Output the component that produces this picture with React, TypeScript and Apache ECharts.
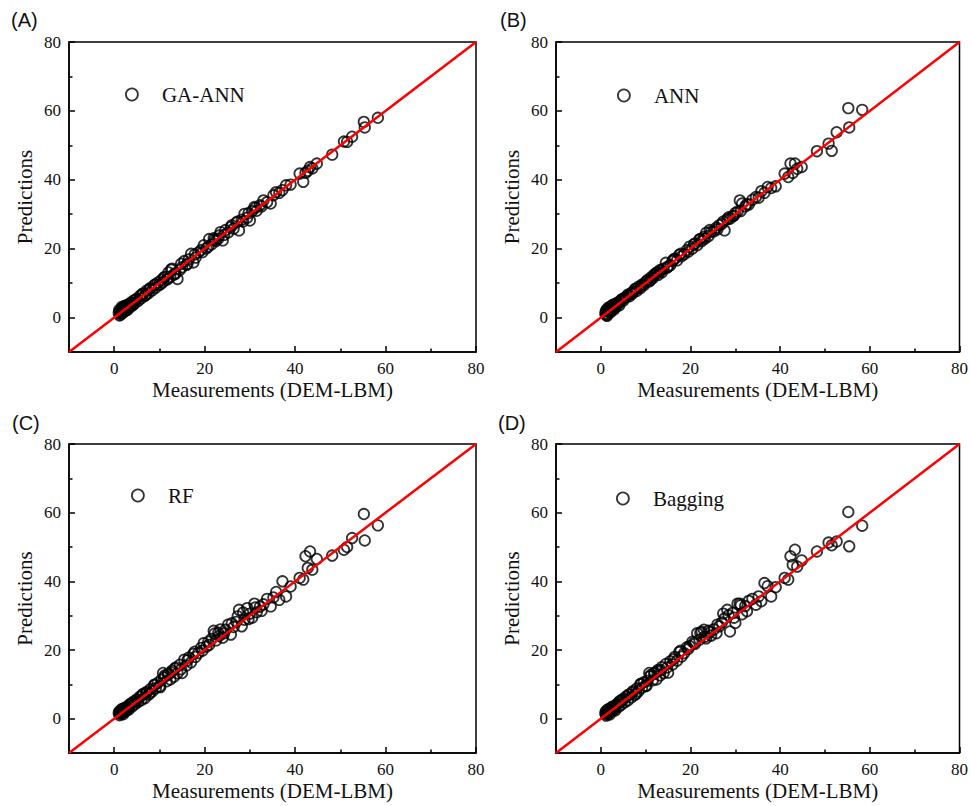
import React, { useEffect, useRef } from "react";
import * as echarts from "echarts";

const panelLabels = ["(A)", "(B)", "(C)", "(D)"];
const modelNames = ["GA-ANN", "ANN", "RF", "Bagging"];
const majorTicks = [0, 20, 40, 60, 80];
const minorTicks = [10, 30, 50, 70];
const axisMin = -10;
const axisMax = 80;
const xAxisTitle = "Measurements (DEM-LBM)";
const yAxisTitle = "Predictions";

const measurements = [
  1.0, 1.2, 1.3, 1.5, 1.6, 1.8, 2.0, 2.1, 2.3, 2.5, 2.7, 3.0, 3.2, 3.5, 3.8, 4.0, 4.3, 4.6, 5.0, 5.3,
  5.7, 6.0, 6.4, 6.8, 7.2, 7.6, 8.0, 8.4, 8.8, 9.2, 9.6, 10.0,
  10.4, 10.8, 11.2, 11.6, 12.0, 12.4, 12.8, 13.2, 13.6, 14.0, 14.5, 15.0, 15.5, 16.0, 16.5, 17.0, 17.5, 18.0, 18.6, 19.2, 19.8,
  20.4, 21.0, 21.5, 22.0, 22.5, 23.0, 23.5, 24.0, 24.6, 25.2, 25.8, 26.4, 27.0, 27.6, 28.2, 28.8, 29.4, 30.0,
  30.5, 31.0, 31.5, 32.2, 33.0, 33.8, 34.6, 35.2, 35.8, 36.5, 37.2, 38.0, 39.0,
  41.0, 41.8, 42.3, 42.8, 43.3, 43.8, 44.8, 48.2, 50.8, 51.5, 52.6, 55.2, 55.4, 58.3,
  1.1, 1.4, 1.7, 2.2, 2.6, 2.9, 3.4, 4.1, 4.8, 6.2, 7.0, 7.9, 9.0, 10.2, 11.0, 11.9, 12.6, 13.4, 14.8, 16.2,
  17.8, 19.5, 20.8, 22.2, 23.2, 24.3, 26.0, 27.3, 28.5, 29.7, 31.2, 32.6,
];

const gaAnnPredictions = [
  1.4, 0.6, 1.9, 1.1, 2.4, 1.3, 2.8, 1.6, 3.4, 2.0, 3.1, 2.5, 3.8, 3.0, 4.4, 3.6, 4.9, 4.2, 5.4, 4.8,
  6.3, 5.6, 7.0, 6.3, 7.8, 7.1, 8.4, 7.9, 9.3, 8.7, 10.1, 9.5,
  10.9, 10.3, 11.8, 11.0, 13.1, 11.8, 14.2, 12.5, 12.9, 11.2, 13.8, 14.6, 16.4, 15.3, 16.9, 18.5, 16.0, 17.4, 18.9, 19.6, 21.0,
  20.1, 22.8, 21.2, 23.0, 22.2, 22.9, 24.8, 22.4, 25.4, 24.7, 26.3, 25.8, 27.6, 25.3, 28.4, 30.1, 29.0, 28.2,
  30.9, 32.1, 31.0, 32.6, 34.0, 33.5, 33.1, 35.5, 36.4, 36.2, 37.0, 38.4, 38.6,
  41.8, 39.4, 42.0, 42.6, 43.7, 43.3, 44.7, 47.3, 51.1, 51.0, 52.5, 56.8, 55.2, 58.0,
  2.2, 0.9, 3.1, 1.8, 3.5, 2.2, 4.0, 3.6, 5.3, 6.8, 6.6, 8.5, 9.6, 9.7, 11.6, 11.3, 13.9, 12.6, 15.6, 15.6,
  18.3, 19.0, 20.6, 22.6, 23.8, 24.0, 26.8, 27.9, 27.9, 30.3, 31.8, 32.3,
];

const annPredictions = [
  1.1, 0.7, 2.3, 1.0, 1.9, 2.6, 1.5, 3.0, 2.2, 3.4, 2.8, 3.9, 2.9, 3.4, 4.4, 4.0, 4.7, 5.2, 4.9, 5.7,
  6.0, 6.6, 6.2, 7.1, 7.5, 8.3, 7.7, 8.9, 8.5, 9.6, 9.4, 10.2,
  10.9, 10.5, 11.7, 11.4, 12.2, 13.0, 12.4, 13.8, 13.1, 14.2, 15.9, 14.8, 15.2, 16.4, 17.1, 16.6, 18.2, 17.8, 18.4, 19.6, 20.6,
  20.0, 21.5, 21.0, 22.7, 22.2, 23.4, 24.6, 23.6, 24.9, 25.0, 26.1, 26.8, 27.2, 25.3, 28.5, 28.7, 29.4, 30.3,
  30.8, 34.0, 33.1, 32.3, 32.8, 34.2, 35.0, 34.8, 36.7, 36.2, 37.9, 37.6, 38.1,
  41.8, 40.8, 44.7, 42.0, 44.7, 43.2, 43.7, 48.3, 50.5, 48.4, 53.8, 60.8, 55.2, 60.3,
  1.8, 0.5, 2.9, 1.6, 3.6, 2.3, 3.9, 3.5, 5.4, 6.6, 6.9, 8.4, 9.3, 10.5, 10.8, 12.5, 13.1, 13.6, 14.5, 16.8,
  18.5, 19.1, 21.3, 22.8, 22.9, 25.4, 25.6, 27.9, 29.1, 29.6, 30.9, 32.9,
];

const rfPredictions = [
  1.6, 1.0, 2.2, 1.4, 2.6, 1.8, 1.3, 2.9, 2.0, 3.2, 2.4, 3.0, 2.6, 3.9, 4.4, 3.6, 5.0, 4.2, 5.6, 4.9,
  6.4, 5.4, 7.2, 6.0, 7.8, 7.0, 8.6, 7.9, 9.8, 8.9, 10.4, 9.4,
  11.3, 13.3, 12.6, 10.9, 13.1, 11.4, 14.0, 12.2, 14.9, 13.2, 15.7, 13.3, 17.2, 15.5, 17.8, 16.4, 18.9, 18.0, 19.1, 20.6, 22.0,
  21.0, 21.5, 23.2, 25.6, 22.8, 25.0, 26.0, 23.6, 25.9, 27.4, 24.5, 26.7, 28.2, 31.7, 26.9, 28.8, 32.2, 30.6,
  29.4, 33.5, 31.0, 32.6, 33.3, 34.9, 32.7, 35.3, 36.9, 34.6, 40.0, 35.6, 38.5,
  41.0, 40.5, 47.3, 43.9, 48.7, 43.4, 46.5, 47.5, 49.2, 50.0, 52.6, 59.6, 51.9, 56.3,
  2.0, 1.7, 2.8, 2.5, 3.3, 2.7, 4.2, 4.6, 5.1, 6.9, 7.5, 7.4, 9.9, 9.2, 12.0, 12.9, 13.5, 14.6, 14.4, 17.0,
  19.5, 19.8, 22.4, 24.8, 24.1, 24.9, 27.8, 29.8, 30.9, 29.0, 32.4, 31.4,
];

const baggingPredictions = [
  1.5, 0.9, 2.3, 1.3, 2.7, 1.7, 1.2, 3.0, 2.1, 3.3, 2.5, 2.9, 2.4, 3.8, 4.5, 3.5, 5.2, 4.1, 5.8, 4.7,
  6.5, 5.3, 7.0, 6.2, 8.0, 6.9, 8.8, 8.0, 10.0, 9.0, 10.6, 9.5,
  11.0, 13.3, 12.8, 11.2, 13.4, 11.4, 14.2, 12.6, 15.0, 13.3, 15.9, 13.4, 16.7, 15.8, 18.0, 16.9, 19.4, 18.1, 19.1, 20.8, 21.1,
  22.4, 21.8, 24.9, 23.0, 25.3, 25.9, 23.4, 25.6, 24.2, 26.0, 24.9, 26.9, 28.0, 29.2, 31.7, 25.4, 30.8, 27.9,
  33.5, 33.5, 30.4, 32.8, 34.3, 34.9, 33.2, 35.6, 34.2, 39.5, 38.6, 35.6, 38.3,
  41.0, 40.5, 47.3, 44.8, 49.2, 44.3, 46.1, 48.7, 51.3, 50.5, 51.6, 60.2, 50.2, 56.2,
  2.1, 1.6, 2.6, 2.8, 3.5, 2.6, 4.0, 4.8, 5.4, 7.0, 7.6, 7.3, 10.2, 9.6, 12.4, 13.1, 13.8, 14.1, 14.9, 17.3,
  19.8, 20.3, 22.1, 25.0, 23.9, 25.1, 27.4, 30.6, 30.1, 29.4, 33.0, 31.3,
];

const predictionSets = [gaAnnPredictions, annPredictions, rfPredictions, baggingPredictions];
const identityLine = [
  [axisMin, axisMin],
  [axisMax, axisMax],
];

// layout (positions only)
const grids = [
  { left: 69, top: 42, width: 407, height: 310 },
  { left: 556, top: 42, width: 407, height: 310 },
  { left: 69, top: 444, width: 407, height: 309 },
  { left: 556, top: 444, width: 407, height: 309 },
];
const legendPos = [
  { left: 125, top: 84 },
  { left: 617, top: 85 },
  { left: 131, top: 485 },
  { left: 616, top: 488 },
];
const labelPos = [
  { left: 11, top: 10 },
  { left: 500, top: 10 },
  { left: 12, top: 413 },
  { left: 498, top: 413 },
];

const SERIF = "Liberation Serif";
const SANS = "Liberation Sans";

function buildOption() {
  const xAxis: any[] = [];
  const yAxis: any[] = [];
  const series: any[] = [];
  grids.forEach((_, i) => {
    const common = { type: "value", gridIndex: i, min: axisMin, max: axisMax, splitLine: { show: false } };
    xAxis.push({
      ...common,
      position: "bottom",
      axisLine: { show: true, onZero: false, lineStyle: { color: "#000", width: 1.5 } },
      axisTick: { show: true, inside: true, length: 6, customValues: majorTicks, lineStyle: { color: "#000", width: 1.5 } },
      axisLabel: { show: true, customValues: majorTicks, margin: 8, fontFamily: SERIF, fontSize: 17, color: "#111" },
      name: xAxisTitle,
      nameLocation: "middle",
      nameGap: 27,
      nameTextStyle: { fontFamily: SERIF, fontSize: 21, color: "#111" },
    });
    xAxis.push({
      ...common,
      position: "bottom",
      axisLine: { show: false, onZero: false },
      axisTick: { show: true, inside: true, length: 3.5, customValues: minorTicks, lineStyle: { color: "#000", width: 1.5 } },
      axisLabel: { show: false },
    });
    yAxis.push({
      ...common,
      position: "left",
      axisLine: { show: true, onZero: false, lineStyle: { color: "#000", width: 1.5 } },
      axisTick: { show: true, inside: true, length: 6, customValues: majorTicks, lineStyle: { color: "#000", width: 1.5 } },
      axisLabel: { show: true, customValues: majorTicks, margin: 8, fontFamily: SERIF, fontSize: 17, color: "#111" },
      name: yAxisTitle,
      nameLocation: "middle",
      nameGap: 34,
      nameTextStyle: { fontFamily: SERIF, fontSize: 21, color: "#111" },
    });
    yAxis.push({
      ...common,
      position: "left",
      axisLine: { show: false, onZero: false },
      axisTick: { show: true, inside: true, length: 3.5, customValues: minorTicks, lineStyle: { color: "#000", width: 1.5 } },
      axisLabel: { show: false },
    });
    series.push({
      name: modelNames[i],
      type: "scatter",
      xAxisIndex: 2 * i,
      yAxisIndex: 2 * i,
      symbol: "circle",
      symbolSize: 10.5,
      itemStyle: { color: "rgba(255,255,255,0)", borderColor: "#000", borderWidth: 1.8 },
      data: measurements.map((m, k) => [m, predictionSets[i][k]]),
      z: 2,
    });
    series.push({
      name: "y = x " + i,
      type: "line",
      xAxisIndex: 2 * i,
      yAxisIndex: 2 * i,
      symbol: "none",
      lineStyle: { color: "#ff0000", width: 2.5 },
      data: identityLine,
      silent: true,
      z: 3,
    });
  });

  return {
    animation: false,
    backgroundColor: "#fff",
    title: panelLabels.map((t, i) => ({
      text: t,
      ...labelPos[i],
      padding: 0,
      textStyle: { fontFamily: SANS, fontSize: 20, fontWeight: "normal", color: "#111" },
    })),
    legend: modelNames.map((n, i) => ({
      data: [n],
      ...legendPos[i],
      padding: 0,
      orient: "horizontal",
      icon: "circle",
      itemWidth: 50,
      itemHeight: 12,
      itemStyle: { color: "rgba(255,255,255,0)", borderColor: "#000", borderWidth: 1.8 },
      textStyle: { fontFamily: SERIF, fontSize: 21, color: "#111" },
      selectedMode: false,
    })),
    grid: grids.map((g) => ({
      ...g,
      show: true,
      borderColor: "#000",
      borderWidth: 1.5,
      backgroundColor: "transparent",
    })),
    xAxis,
    yAxis,
    series,
  };
}

export default function App() {
  const ref = useRef<HTMLDivElement>(null);
  useEffect(() => {
    if (!ref.current) return;
    const chart = echarts.init(ref.current, undefined, { renderer: "svg" });
    chart.setOption(buildOption() as any);
    return () => chart.dispose();
  }, []);
  return (
    <div
      ref={ref}
      style={{ position: "fixed", left: 0, top: 0, width: 971, height: 806, background: "#fff" }}
    />
  );
}
